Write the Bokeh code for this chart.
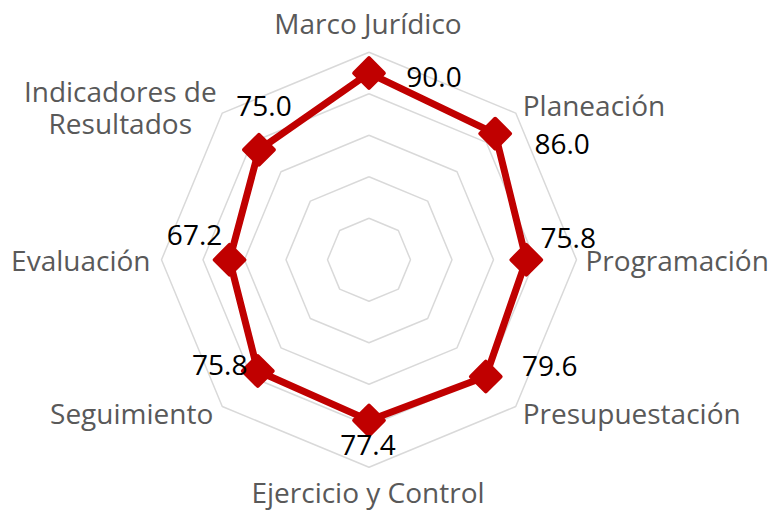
import numpy as np
from bokeh.plotting import figure
from bokeh.models import ColumnDataSource, Range1d
from bokeh.core.properties import value
from bokeh.embed import file_html
from bokeh.resources import INLINE

# ---- data ----
categories = ["Marco Jurídico", "Planeación", "Programación", "Presupuestación",
              "Ejercicio y Control", "Seguimiento", "Evaluación",
              "Indicadores de\nResultados"]
scores = [90.0, 86.0, 75.8, 79.6, 77.4, 75.8, 67.2, 75.0]
ring_levels = [20, 40, 60, 80, 100]
axis_max = 100

# ---- styles / label placement (screen px) ----
value_dx = [65, 67, 42, 64, -1, -38, -35, 5]
value_dy = [4, 10, -22, -11, 25, -6, -25, -44]
cat_dx = [-1, 7, 9, 7, -1, -9, -11, -102]
cat_dy = [-29, -8, 0, 6, 25, 6, 0, -6]
cat_align = ["center", "left", "left", "left", "center", "right", "right", "center"]

W, H = 769, 511
scale = 2.075          # px per data unit
cx, cy = 368.5, 259.3  # centre in canvas px

n = len(categories)
theta = np.pi / 2 - 2 * np.pi * np.arange(n) / n
ct, st = np.cos(theta), np.sin(theta)

p = figure(width=W, height=H, output_backend="svg", toolbar_location=None,
           x_range=Range1d(-cx / scale, (W - cx) / scale),
           y_range=Range1d(-(H - cy) / scale, cy / scale),
           min_border=0, x_axis_location=None, y_axis_location=None)
p.grid.visible = False
p.outline_line_color = None
p.background_fill_color = "white"
p.border_fill_color = "white"

# rings
ring_xs = [list(r * ct) + [r * ct[0]] for r in ring_levels]
ring_ys = [list(r * st) + [r * st[0]] for r in ring_levels]
p.multi_line(xs=ring_xs, ys=ring_ys, line_color="#d9d9d9", line_width=1.5)

# data polygon
sx = np.array(scores) * ct
sy = np.array(scores) * st
p.line(x=list(sx) + [sx[0]], y=list(sy) + [sy[0]], line_color="#c00000",
       line_width=7, line_join="round")
p.scatter(x=sx, y=sy, marker="square", size=21, angle=np.pi / 4,
          fill_color="#c00000", line_color="#c00000", line_width=4,
          line_join="round")

# value labels
vsrc = ColumnDataSource(dict(x=sx, y=sy, t=[f"{v:.1f}" for v in scores],
                             dx=value_dx, dy=value_dy))
p.text(x="x", y="y", text="t", x_offset="dx", y_offset="dy", source=vsrc,
       text_align="center", text_baseline="middle",
       text_font=value("Open Sans"), text_font_size="28px", text_color="black")

# category labels
csrc = ColumnDataSource(dict(x=axis_max * ct, y=axis_max * st, t=categories,
                             dx=cat_dx, dy=cat_dy, al=cat_align))
p.text(x="x", y="y", text="t", x_offset="dx", y_offset="dy", source=csrc,
       text_align="al", text_baseline="middle", text_line_height=0.83,
       text_font=value("Open Sans"), text_font_size="28px", text_color="#595959")

open("out.html", "w").write(file_html(p, INLINE))
